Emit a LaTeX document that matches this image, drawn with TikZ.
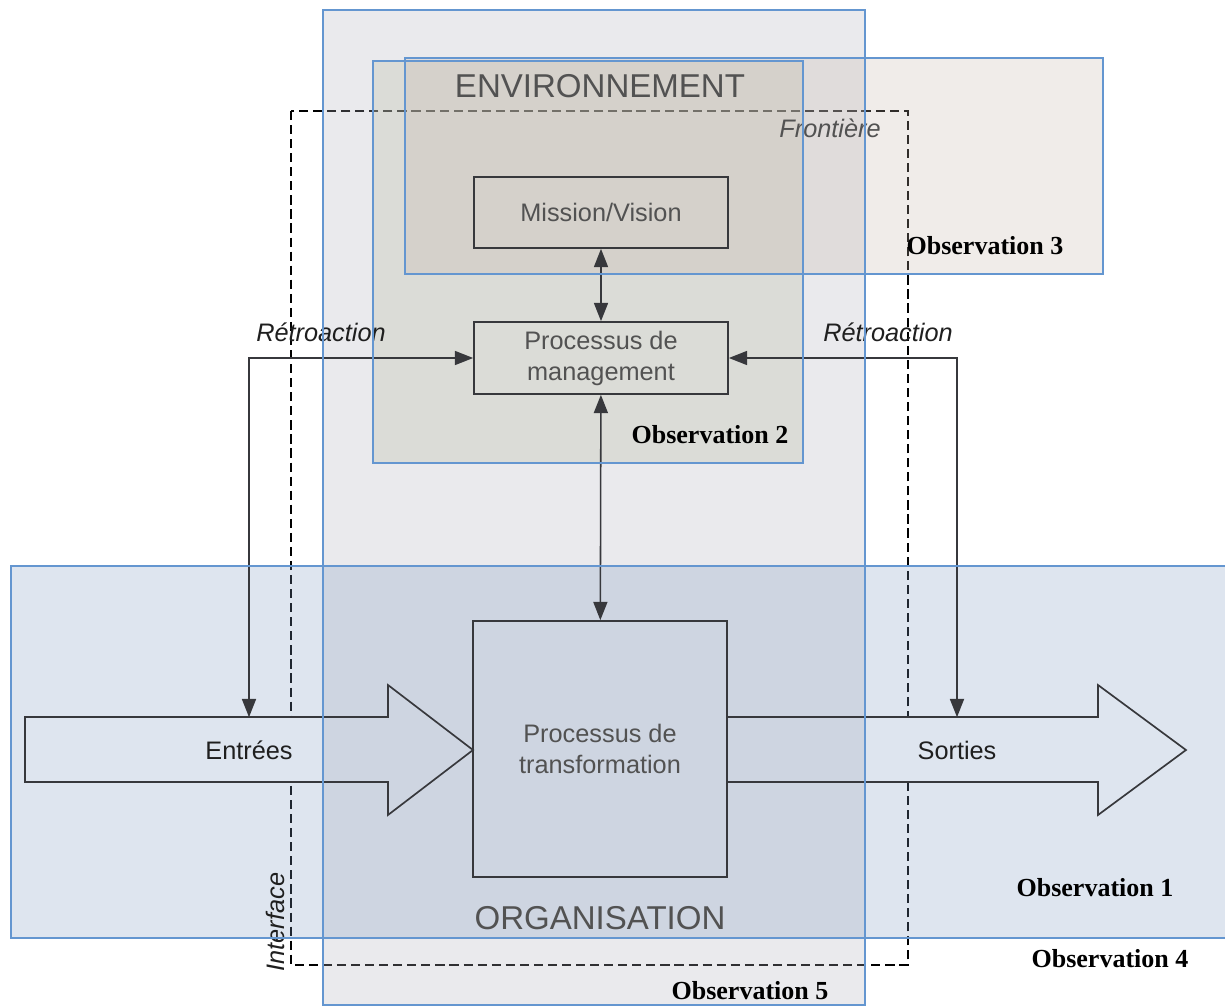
\documentclass[tikz,border=0pt]{standalone}
\usepackage{fontspec}
\setmainfont{Liberation Sans}
\newfontfamily\obsfont{Liberation Serif}
\usepackage{tikz}
\usetikzlibrary{arrows.meta}
\definecolor{ObsBlue}{RGB}{100, 150, 208}
\definecolor{LineGray}{RGB}{55, 56, 60}
\definecolor{TextGray}{RGB}{82, 82, 82}
\definecolor{FillObsFive}{RGB}{180, 180, 192}
\definecolor{FillObsOne}{RGB}{124, 152, 192}
\definecolor{FillObsTwo}{RGB}{185, 188, 165}
\definecolor{FillObsThree}{RGB}{196, 180, 168}

\begin{document}
\begin{tikzpicture}[x=0.025cm, y=-0.025cm,
    box/.style={draw=LineGray, line width=1.2pt, inner sep=0pt, minimum width=6.35cm,
      align=center, text=TextGray, font=\fontsize{18}{22}\selectfont},
    conn/.style={draw=LineGray, line width=1.1pt, {Triangle[length=13pt,width=10pt]}-{Triangle[length=13pt,width=10pt]}},
    bigarrow/.style={draw=LineGray, line width=1.2pt},
    flowlabel/.style={inner sep=0pt, minimum height=1.625cm, text=black!88, font=\fontsize{18}{22}\selectfont},
    obsregion/.style={draw=ObsBlue, line width=1.1pt},
    obslabel/.style={font=\obsfont\bfseries\fontsize{18.5}{20}\selectfont},
    caption/.style={font=\fontsize{18}{22}\selectfont\itshape, text=black!88},
    title/.style={font=\fontsize{23.5}{26}\selectfont, text=TextGray}]
  \useasboundingbox (0,0) rectangle (1225,1006);
  \fill[white] (0,0) rectangle (1225,1006);

  % frontiere
  \draw[line width=1.2pt, dash pattern=on 6.5pt off 3.5pt] (291,111) rectangle (908,965);

  % entrees / sorties (fond)
  \fill[white] (25,717) -- (388,717) -- (388,685) -- (473,750) -- (388,815) -- (388,782) -- (25,782) -- cycle;
  \fill[white] (727,717) -- (1098,717) -- (1098,685) -- (1186,750) -- (1098,815) -- (1098,782) -- (727,782) -- cycle;

  % observations (fond)
  \fill[FillObsFive, fill opacity=0.27] (323,10) rectangle (865,1005);
  \fill[FillObsOne, fill opacity=0.25] (11,566) rectangle (1232,938);
  \fill[FillObsTwo, fill opacity=0.3] (373,61) rectangle (803,463);
  \fill[FillObsThree, fill opacity=0.25] (405,58) rectangle (1103,274);

  % entrees / sorties
  \draw[bigarrow] (25,717) -- (388,717) -- (388,685) -- (473,750) -- (388,815) -- (388,782) -- (25,782) -- cycle;
  \draw[bigarrow] (727,717) -- (1098,717) -- (1098,685) -- (1186,750) -- (1098,815) -- (1098,782) -- (727,782);

  % processus
  \node[box, minimum height=1.775cm] (mission) at (601,212.5) {Mission/Vision};
  \node[box, minimum height=1.8cm] (mgmt) at (601,358) {Processus de\\management};
  \node[box, minimum height=6.4cm, font=\fontsize{18}{21.5}\selectfont] (transf) at (600,749) {Processus de\\transformation};

  \node[flowlabel] (inlabel) at (249,750) {Entrées};
  \node[flowlabel] (outlabel) at (957,750) {Sorties};

  \draw[conn] (mission) -- (mgmt);
  \draw[conn] (mgmt) -- (transf);
  \draw[conn] (inlabel.north) |- (mgmt.west);
  \draw[conn] (outlabel.north) |- (mgmt.east);

  \node[caption] (retroleft) at (321,332) {Rétroaction};
  \node[caption] (retroright) at (888,332) {Rétroaction};
  \node[caption, text=TextGray] (frontiere) at (830,128) {Frontière};
  \node[caption, rotate=90] (interface) at (275,922) {Interface};
  \node[title] (env) at (600,86) {ENVIRONNEMENT};
  \node[title] (org) at (600,918) {ORGANISATION};

  % observations (bords)
  \draw[obsregion] (323,10) rectangle (865,1005);
  \draw[obsregion] (11,566) rectangle (1232,938);
  \draw[obsregion] (373,61) rectangle (803,463);
  \draw[obsregion] (405,58) rectangle (1103,274);

  \node[obslabel] (obs1) at (1095,888) {Observation 1};
  \node[obslabel] (obs2) at (710,435) {Observation 2};
  \node[obslabel] (obs3) at (985,246) {Observation 3};
  \node[obslabel] (obs4) at (1110,959) {Observation 4};
  \node[obslabel] (obs5) at (750,991) {Observation 5};
\end{tikzpicture}
\end{document}
